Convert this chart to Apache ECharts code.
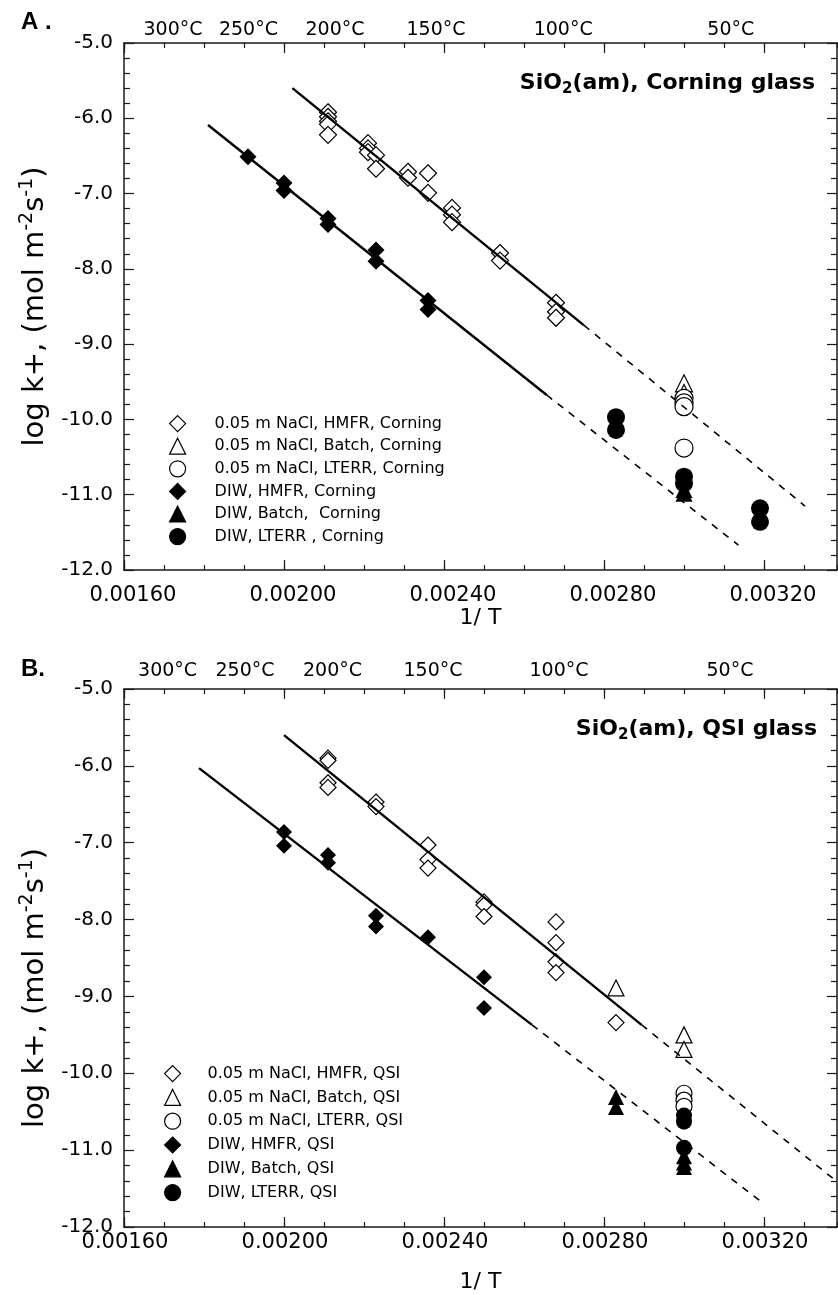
<!DOCTYPE html>
<html>
<head>
<meta charset="utf-8">
<script src="https://cdn.jsdelivr.net/npm/echarts@6/dist/echarts.min.js"></script>
<style>
html,body{margin:0;padding:0;background:#fff;}
#chart{width:838px;height:1295px;}
</style>
</head>
<body>
<div id="chart"></div>
<script>
// ---------- axis ticks / labels ----------
const X_MIN = 0.0016;
const X_MAX = 0.0033825;
const Y_MIN = -12;
const Y_MAX = -5;
const xMajorTicks = [0.0016, 0.0020, 0.0024, 0.0028, 0.0032];
const tempLabels = ['300°C', '250°C', '200°C', '150°C', '100°C', '50°C'];
const tempLabelPosA = [0.0017225, 0.001911, 0.0021275, 0.00238, 0.002698, 0.003117];
const tempLabelPosB = [0.001709, 0.0019025, 0.0021213, 0.0023725, 0.0026875, 0.003115];

// ---------- Panel A : Corning glass ----------
const A_nacl_hmfr = [
  [0.00211, -5.92], [0.00211, -5.98], [0.00211, -6.04], [0.00211, -6.08], [0.00211, -6.22],
  [0.00221, -6.33], [0.00221, -6.40], [0.00221, -6.45], [0.00223, -6.49], [0.00223, -6.67],
  [0.00231, -6.71], [0.00231, -6.79], [0.00236, -6.73], [0.00236, -6.99],
  [0.00242, -7.19], [0.00242, -7.28], [0.00242, -7.38],
  [0.00254, -7.79], [0.00254, -7.89],
  [0.00268, -8.45], [0.00268, -8.57], [0.00268, -8.65]
];
const A_nacl_batch = [[0.00300, -9.52], [0.00300, -9.65]];
const A_nacl_lterr = [[0.00300, -9.72], [0.00300, -9.78], [0.00300, -9.83], [0.00300, -10.38]];
const A_diw_hmfr = [
  [0.00191, -6.51], [0.00200, -6.86], [0.00200, -6.96], [0.00211, -7.33], [0.00211, -7.41],
  [0.00223, -7.75], [0.00223, -7.90], [0.00236, -8.42], [0.00236, -8.54]
];
const A_diw_batch = [[0.00300, -10.93], [0.00300, -10.98]];
const A_diw_lterr = [
  [0.00283, -9.97], [0.00283, -10.14], [0.00300, -10.76], [0.00300, -10.85],
  [0.00319, -11.18], [0.00319, -11.36]
];
// regression lines: [start, end of solid part, end of dashed part]
const A_fit_nacl = [[0.002021, -5.60], [0.00275, -8.75], [0.0033025, -11.15]];
const A_fit_diw = [[0.00181, -6.09], [0.0026567, -9.675], [0.003136, -11.67]];

// ---------- Panel B : QSI glass ----------
const B_nacl_hmfr = [
  [0.00211, -5.90], [0.00211, -5.93], [0.00211, -6.22], [0.00211, -6.28],
  [0.00223, -6.47], [0.00223, -6.53],
  [0.00236, -7.03], [0.00236, -7.22], [0.00236, -7.33],
  [0.00250, -7.77], [0.00250, -7.81], [0.00250, -7.96],
  [0.00268, -8.03], [0.00268, -8.30], [0.00268, -8.55], [0.00268, -8.69],
  [0.00283, -9.34]
];
const B_nacl_batch = [[0.00283, -8.89], [0.00300, -9.50], [0.00300, -9.69]];
const B_nacl_lterr = [[0.00300, -10.26], [0.00300, -10.35], [0.00300, -10.43]];
const B_diw_hmfr = [
  [0.00200, -6.86], [0.00200, -7.04], [0.00211, -7.16], [0.00211, -7.26],
  [0.00223, -7.95], [0.00223, -8.09], [0.00236, -8.23],
  [0.00250, -8.75], [0.00250, -9.15]
];
const B_diw_batch = [[0.00283, -10.31], [0.00283, -10.44], [0.00300, -11.08], [0.00300, -11.16], [0.00300, -11.22]];
const B_diw_lterr = [[0.00300, -10.55], [0.00300, -10.63], [0.00300, -10.97]];
const B_fit_nacl = [[0.0020, -5.60], [0.002894, -9.37], [0.0033825, -11.41]];
const B_fit_diw = [[0.0017875, -6.03], [0.00262, -9.37], [0.003195, -11.68]];

const legendNamesA = ['0.05 m NaCl, HMFR, Corning', '0.05 m NaCl, Batch, Corning', '0.05 m NaCl, LTERR, Corning',
  'DIW, HMFR, Corning', 'DIW, Batch,  Corning', 'DIW, LTERR , Corning'];
const legendNamesB = ['0.05 m NaCl, HMFR, QSI', '0.05 m NaCl, Batch, QSI', '0.05 m NaCl, LTERR, QSI',
  'DIW, HMFR, QSI', 'DIW, Batch, QSI', 'DIW, LTERR, QSI'];

// ---------- build options ----------
const FONT = 'DejaVu Sans';
const AX = '#1a1a1a';
const grids = [
  {left: 124, top: 43, width: 713, height: 527},
  {left: 124, top: 689, width: 713, height: 538}
];
const xAxes = [];
const yAxes = [];
function nearestLabel(v, pos) {
  let bi = 0, bd = Infinity;
  pos.forEach((p, i) => { const d = Math.abs(p - v); if (d < bd) { bd = d; bi = i; } });
  return tempLabels[bi];
}
[0, 1].forEach(g => {
  const tpos = g === 0 ? tempLabelPosA : tempLabelPosB;
  const base = {type: 'value', gridIndex: g, min: X_MIN, max: X_MAX, splitLine: {show: false}};
  // bottom minor ticks + labels
  xAxes.push(Object.assign({}, base, {
    position: 'bottom', interval: 0.0001,
    axisLine: {show: true, lineStyle: {color: AX, width: 1.5}},
    axisTick: {show: true, inside: true, length: 5, lineStyle: {color: AX, width: 1.2}},
    axisLabel: {customValues: xMajorTicks, formatter: v => v.toFixed(5),
      fontFamily: FONT, fontSize: 21, color: '#000',
      margin: g === 0 ? 15 : 5, padding: g === 0 ? [0, 0, 0, 18] : [0, 0, 0, 2]},
    name: '1/ T', nameLocation: 'middle', nameGap: g === 0 ? 15 : 44,
    nameTextStyle: {fontFamily: FONT, fontSize: 22, color: '#000'}
  }));
  // bottom major ticks
  xAxes.push(Object.assign({}, base, {
    position: 'bottom', interval: 0.0004,
    axisLine: {show: false},
    axisTick: {show: true, inside: true, length: 10, customValues: xMajorTicks, lineStyle: {color: AX, width: 1.2}},
    axisLabel: {show: false}
  }));
  // top minor ticks + temperature labels
  xAxes.push(Object.assign({}, base, {
    position: 'top', interval: 0.0001,
    axisLine: {show: true, lineStyle: {color: AX, width: 1.5}},
    axisTick: {show: true, inside: true, length: 5, lineStyle: {color: AX, width: 1.2}},
    axisLabel: {customValues: tpos, formatter: v => nearestLabel(v, tpos),
      fontFamily: FONT, fontSize: 19, color: '#000', margin: g === 0 ? 3 : 8}
  }));
  // top major ticks
  xAxes.push(Object.assign({}, base, {
    position: 'top', interval: 0.0004,
    axisLine: {show: false},
    axisTick: {show: true, inside: true, length: 10, customValues: xMajorTicks, lineStyle: {color: AX, width: 1.2}},
    axisLabel: {show: false}
  }));
  const ybase = {type: 'value', gridIndex: g, min: Y_MIN, max: Y_MAX, interval: 1, splitLine: {show: false},
    axisLine: {show: true, lineStyle: {color: AX, width: 1.5}},
    axisTick: {show: true, inside: true, length: 10, lineStyle: {color: AX, width: 1.2}},
    minorTick: {show: true, splitNumber: 5, length: 6, lineStyle: {color: AX, width: 1.2}}};
  yAxes.push(Object.assign({}, ybase, {
    position: 'left',
    axisLabel: {formatter: v => v.toFixed(1), fontFamily: FONT, fontSize: 20, color: '#000', margin: 11},
    name: '{t|log k+, (mol m}{s|-2}{t|s}{s|-1}{t|)}', nameLocation: 'middle', nameRotate: 90,
    nameGap: 67,
    nameTextStyle: {padding: g === 0 ? [0, 0, 0, 0] : [0, 60, 0, 0], rich: {
      t: {fontFamily: FONT, fontSize: 29, color: '#000', verticalAlign: 'bottom', lineHeight: 33},
      s: {fontFamily: FONT, fontSize: 19, color: '#000', verticalAlign: 'top', lineHeight: 33, padding: [0, 0, 12, 0]}
    }}
  }));
  yAxes.push(Object.assign({}, ybase, {position: 'right', axisLabel: {show: false}}));
});

const openStyle = {color: '#fff', borderColor: '#000', borderWidth: 1.2, opacity: 1};
const fillStyle = {color: '#000', borderColor: '#000', borderWidth: 0, opacity: 1};
function scatter(name, g, data, symbol, open, size) {
  return {type: 'scatter', name, xAxisIndex: g * 4, yAxisIndex: g * 2, data, symbol,
    symbolSize: size, itemStyle: open ? openStyle : fillStyle, z: 3, silent: true};
}
function fit(g, pts) {
  return [
    {type: 'line', xAxisIndex: g * 4, yAxisIndex: g * 2, data: pts.slice(0, 2), showSymbol: false, symbol: 'none',
      lineStyle: {color: '#000', width: 2.4, type: 'solid'}, z: 4, silent: true},
    {type: 'line', xAxisIndex: g * 4, yAxisIndex: g * 2, data: pts.slice(1, 3), showSymbol: false, symbol: 'none',
      lineStyle: {color: '#000', width: 1.6, type: [7, 7]}, z: 4, silent: true}
  ];
}
const series = [
  scatter(legendNamesA[0], 0, A_nacl_hmfr, 'diamond', true, 17),
  scatter(legendNamesA[1], 0, A_nacl_batch, 'triangle', true, 17),
  scatter(legendNamesA[2], 0, A_nacl_lterr, 'circle', true, 18),
  scatter(legendNamesA[3], 0, A_diw_hmfr, 'diamond', false, 17),
  scatter(legendNamesA[4], 0, A_diw_batch, 'triangle', false, 17),
  scatter(legendNamesA[5], 0, A_diw_lterr, 'circle', false, 18),
  scatter(legendNamesB[0], 1, B_nacl_hmfr, 'diamond', true, 16),
  scatter(legendNamesB[1], 1, B_nacl_batch, 'triangle', true, 16),
  scatter(legendNamesB[2], 1, B_nacl_lterr, 'circle', true, 16),
  scatter(legendNamesB[3], 1, B_diw_hmfr, 'diamond', false, 16),
  scatter(legendNamesB[4], 1, B_diw_batch, 'triangle', false, 16),
  scatter(legendNamesB[5], 1, B_diw_lterr, 'circle', false, 16),
  ...fit(0, A_fit_nacl), ...fit(0, A_fit_diw), ...fit(1, B_fit_nacl), ...fit(1, B_fit_diw)
];

function legend(names, left, top, gap, pad) {
  return {data: names, orient: 'vertical', left, top, itemWidth: 16, itemHeight: 16, itemGap: gap,
    selectedMode: false, padding: 0,
    itemStyle: {borderWidth: 1.2, opacity: 1},
    textStyle: {fontFamily: FONT, fontSize: 16, color: '#000', padding: [0, 0, 0, pad]}};
}
const titleRich = {
  b: {fontFamily: FONT, fontWeight: 'bold', fontSize: 22, color: '#000'},
  sub: {fontFamily: FONT, fontWeight: 'bold', fontSize: 15, color: '#000', verticalAlign: 'bottom', padding: [12, 0, 0, 0]}
};
const option = {
  animation: false,
  backgroundColor: '#fff',
  grid: grids,
  xAxis: xAxes,
  yAxis: yAxes,
  title: [
    {text: '{b|SiO}{sub|2}{b|(am), Corning glass}', right: 18, top: 65, textStyle: {rich: titleRich}},
    {text: '{b|SiO}{sub|2}{b|(am), QSI glass}', right: 16, top: 711, textStyle: {rich: titleRich}},
    {text: 'A .', left: 16, top: 5, textStyle: {fontFamily: 'Liberation Sans', fontWeight: 'bold', fontSize: 24, color: '#000'}},
    {text: 'B.', left: 16, top: 652, textStyle: {fontFamily: 'Liberation Sans', fontWeight: 'bold', fontSize: 24, color: '#000'}}
  ],
  legend: [legend(legendNamesA, 169, 415, 5.4, 24), legend(legendNamesB, 164, 1065, 6.6, 22)],
  series
};
const chart = echarts.init(document.getElementById('chart'), null, {renderer: 'canvas'});
chart.setOption(option);
</script>
</body>
</html>
